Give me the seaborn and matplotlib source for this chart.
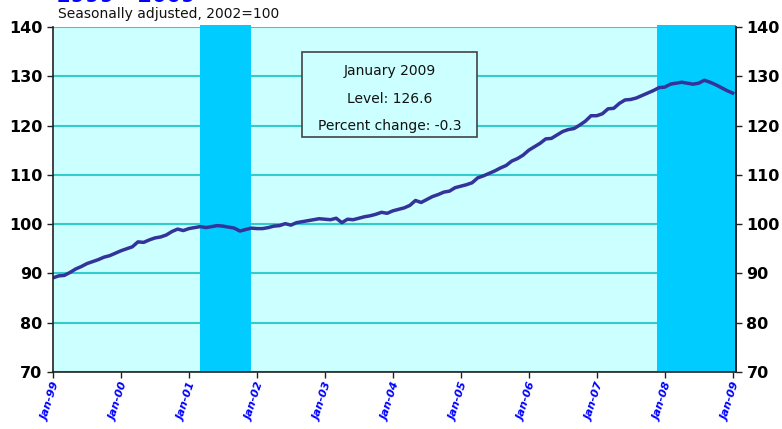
import numpy as np
import pandas as pd
import seaborn as sns
import matplotlib.pyplot as plt
from matplotlib.patches import Rectangle

# monthly index, Jan-1999 .. Jan-2009
v1999 = [89.1, 89.5, 89.6, 90.2, 90.9, 91.4, 92.0, 92.4, 92.8, 93.3, 93.6, 94.1]
v2000 = [94.6, 95.0, 95.4, 96.4, 96.3, 96.8, 97.2, 97.4, 97.8, 98.5, 99.0, 98.7]
v2001 = [99.1, 99.3, 99.5, 99.3, 99.5, 99.7, 99.6, 99.4, 99.2, 98.6, 98.9, 99.2]
v2002 = [99.1, 99.1, 99.3, 99.6, 99.7, 100.1, 99.8, 100.3, 100.5, 100.7, 100.9, 101.1]
v2003 = [101.0, 100.9, 101.2, 100.3, 101.0, 100.9, 101.2, 101.5, 101.7, 102.0, 102.4, 102.2]
v2004 = [102.7, 103.0, 103.3, 103.8, 104.8, 104.4, 105.0, 105.6, 106.0, 106.5, 106.7, 107.4]
v2005 = [107.7, 108.0, 108.4, 109.4, 109.8, 110.3, 110.8, 111.4, 111.9, 112.8, 113.3, 114.0]
v2006 = [115.0, 115.7, 116.4, 117.3, 117.4, 118.1, 118.8, 119.2, 119.4, 120.1, 120.9, 122.0]
v2007 = [122.0, 122.4, 123.4, 123.5, 124.5, 125.2, 125.3, 125.6, 126.1, 126.6, 127.1, 127.7]
v2008 = [127.8, 128.4, 128.6, 128.8, 128.6, 128.4, 128.6, 129.2, 128.8, 128.3, 127.7, 127.1]
v2009 = [126.6]

values = v1999 + v2000 + v2001 + v2002 + v2003 + v2004 + v2005 + v2006 + v2007 + v2008 + v2009
months = pd.date_range("1999-01-01", periods=len(values), freq="MS")

tick_labels = ["Jan-99", "Jan-00", "Jan-01", "Jan-02", "Jan-03", "Jan-04",
               "Jan-05", "Jan-06", "Jan-07", "Jan-08", "Jan-09"]

# recessions (start, end)
recessions = [("2001-03-01", "2001-12-01"), ("2007-11-20", "2009-01-20")]

box_lines = ["January 2009", "Level: 126.6", "Percent change: -0.3"]

df = pd.DataFrame({"pos": np.arange(len(values)), "value": values, "month": months})

def month_pos(s):
    d = pd.Timestamp(s)
    return (d.year - 1999) * 12 + (d.month - 1) + (d.day - 1) / 30.0

fig = plt.figure(figsize=(7.82, 4.29), dpi=100)
ax = fig.add_axes([0.0678, 0.1329, 0.8734, 0.8041])
ax.set_facecolor("#CCFFFF")

for start, end in recessions:
    ax.axvspan(month_pos(start), month_pos(end), ymin=0, ymax=1.006,
               color="#00CCFF", zorder=2, lw=0, clip_on=False)

sns.lineplot(data=df, x="pos", y="value", ax=ax, color="#333399",
             linewidth=2.5, zorder=3)

ax.set_xlim(0, 120.6)
ax.set_ylim(70, 140)
ax.set_yticks(range(70, 141, 10))
ax.yaxis.grid(True, color="#33CCCC", linewidth=1.5, zorder=1)
ax.set_axisbelow(True)
ax.set_xlabel("")
ax.set_ylabel("")

ax.set_xticks(range(0, 121, 12))
ax.set_xticklabels(tick_labels, rotation=72, color="#0000FF",
                   fontsize=8, fontweight="bold", fontstyle="italic", ha="right",
                   rotation_mode="anchor")
ax.tick_params(axis="x", length=4, width=1, color="#222222", pad=3)
ax.tick_params(axis="y", length=4, width=1, color="#222222", labelsize=11.5)
for lab in ax.get_yticklabels():
    lab.set_fontweight("bold")

ax.spines["top"].set_visible(False)
for s in ["left", "bottom", "right"]:
    ax.spines[s].set_color("#222222")
    ax.spines[s].set_linewidth(1.2)
    ax.spines[s].set_zorder(4)

ax2 = ax.twinx()
ax2.set_ylim(70, 140)
ax2.set_yticks(range(70, 141, 10))
ax2.tick_params(axis="y", length=4, width=1, color="#222222", labelsize=11.5)
for lab in ax2.get_yticklabels():
    lab.set_fontweight("bold")
for s in ["top", "left", "bottom"]:
    ax2.spines[s].set_visible(False)
ax2.spines["right"].set_color("#222222")
ax2.spines["right"].set_linewidth(1.2)

# info box
bx0, bx1, by0, by1 = 0.3646, 0.621, 0.681, 0.9275
ax.add_patch(Rectangle((bx0, by0), bx1 - bx0, by1 - by0, transform=ax.transAxes,
                       facecolor="#CCFFFF", edgecolor="#444444", lw=1.2, zorder=5))
cx = (bx0 + bx1) / 2
for i, txt in enumerate(box_lines):
    ax.text(cx, by1 - 0.055 - i * 0.08, txt, transform=ax.transAxes,
            ha="center", va="center", fontsize=10, color="#111111", zorder=6)

fig.text(0.074, 1 - 14 / 429, "Seasonally adjusted, 2002=100", fontsize=10,
         color="#111111", va="center", ha="left")
# title sits mostly above the top edge, as in the source image
fig.text(0.072, 1 - 2 / 429, "1999 - 2009", fontsize=15, fontweight="bold",
         color="#0000FF", va="baseline", ha="left")

fig.savefig("out.png", dpi=100)
